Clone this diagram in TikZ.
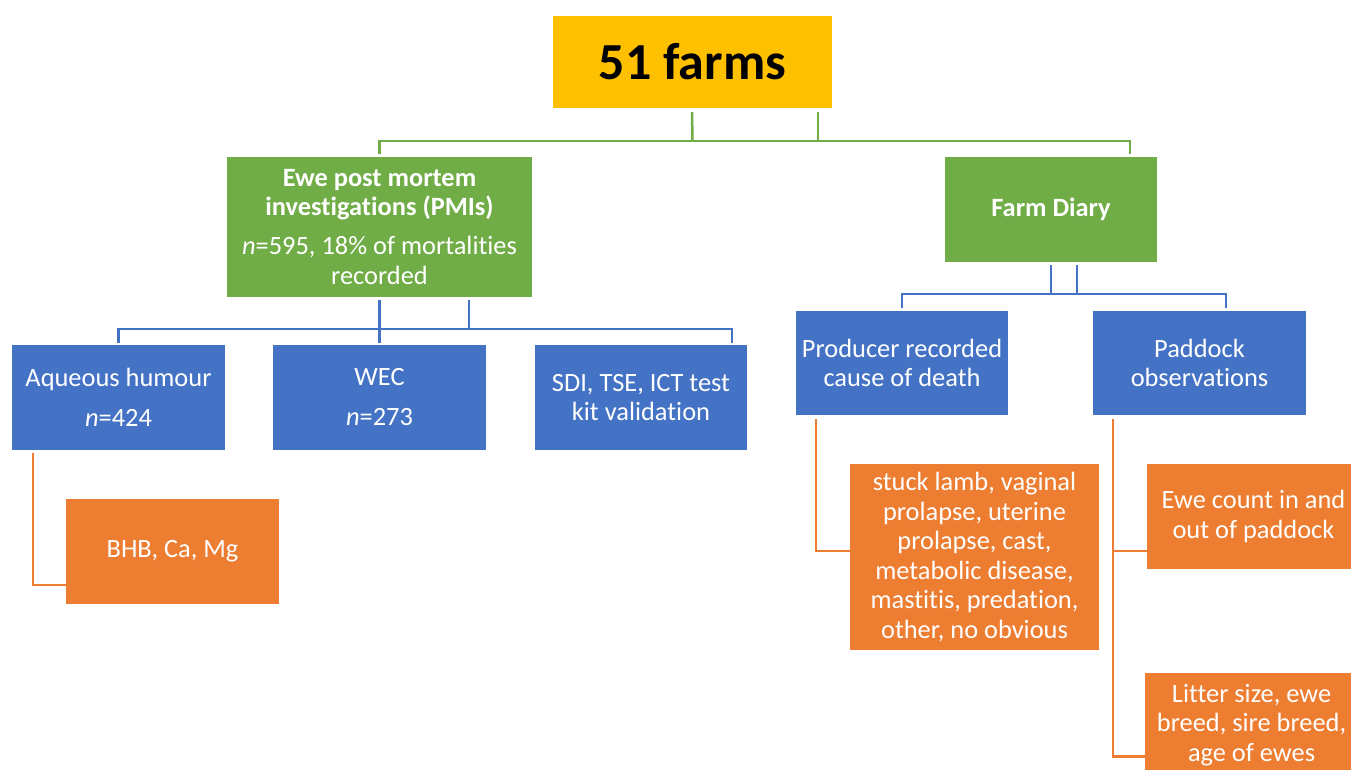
\documentclass[tikz,border=0pt]{standalone}
\usepackage{fontspec}
\setmainfont[Ligatures={NoCommon,NoContextual},RawFeature={-liga;-clig;-calt;-rlig;-dlig}]{Carlito}
\usetikzlibrary{calc}
\definecolor{cyellow}{HTML}{FFC000}
\definecolor{cgreen}{HTML}{70AD47}
\definecolor{cblue}{HTML}{4472C4}
\definecolor{corange}{HTML}{ED7D31}
\newcommand{\nolig}{\kern0pt }
\tikzset{
  box/.style={rectangle, inner sep=0pt, align=center, text=white,
    font=\fontsize{26.4}{29.5}\selectfont},
  gbox/.style={box, fill=cgreen},
  bbox/.style={box, fill=cblue},
  obox/.style={box, fill=corange},
  gline/.style={draw=cgreen, line width=2.5pt},
  bline/.style={draw=cblue, line width=2.5pt},
  oline/.style={draw=corange, line width=2.5pt},
}
\begin{document}
\begin{tikzpicture}[x=1pt,y=-1pt]
\useasboundingbox (0,0) rectangle (1351,770);
% boxes
\node[box, fill=cyellow, text=black, minimum width=279pt, minimum height=92pt,
  font=\fontsize{52}{60}\selectfont\bfseries] (farms) at (692.5,62) {51 farms};
\node[gbox, minimum width=305pt, minimum height=140pt] (pmi) at (379.5,227)
  {\textbf{Ewe post mortem}\\\textbf{investigat\nolig ions (PMIs)}\\[9.5pt]\textit{n}=595, 18\% of mortali\nolig t\nolig ies\\recorded};
\node[gbox, minimum width=212pt, minimum height=105pt] (diary) at (1051,209.5) {\textbf{Farm Diary}};
\node[bbox, minimum width=213pt, minimum height=105pt] (aq) at (118.5,397.5) {Aqueous humour\\[10.5pt]\textit{n}=424};
\node[bbox, minimum width=213pt, minimum height=105pt] (wec) at (379.5,397.5) {WEC\\[10.5pt]\textit{n}=273};
\node[bbox, minimum width=212pt, minimum height=105pt] (sdi) at (641,397.5) {SDI, TSE, ICT test\\kit validation};
\node[bbox, minimum width=212pt, minimum height=104pt] (prod) at (902,363) {Producer recorded\\cause of death};
\node[bbox, minimum width=213pt, minimum height=104pt] (pad) at (1199.5,363) {Paddock\\observations};
\node[obox, minimum width=213pt, minimum height=105pt] (bhb) at (172.5,551.5) {BHB, Ca, Mg};
\node[obox, minimum width=249pt, minimum height=186pt] (causes) at (974.5,557)
  {stuck lamb, vaginal\\prolapse, uterine\\prolapse, cast,\\metabolic disease,\\mast\nolig it\nolig is, predat\nolig ion,\\other, no obvious};
\node[obox, minimum width=213pt, minimum height=105pt] (ewe) at (1253.5,516.5) {Ewe count in and\\out of paddock};
\node[obox, minimum width=213pt, minimum height=104pt] (lit) at (1251.5,725) {Litter size, ewe\\breed, sire breed,\\age of ewes};
% hubs
\coordinate (hubg) at (692,141);
\coordinate (hubb) at (469,329);
\coordinate (hubd) at (1051,294);
% green connectors
\draw[gline] ([xshift=-0.5pt,yshift=-4pt]farms.south) -- (farms.south |- hubg);
\draw[gline] ([xshift=125.5pt,yshift=-4pt]farms.south) -- ([xshift=125.5pt]farms.south |- hubg);
\draw[gline] ([yshift=3pt]pmi.north) |- (hubg) -| ([xshift=79pt,yshift=3pt]diary.north);
% blue connectors under PMI
\draw[bline] ([yshift=-3pt]pmi.south) -- ([yshift=2pt]wec.north);
\draw[bline] ([xshift=89.5pt,yshift=-3pt]pmi.south) -- (hubb);
\draw[bline] ([yshift=2pt]aq.north) |- (hubb) -| ([xshift=91pt,yshift=2pt]sdi.north);
% blue connectors under diary
\draw[bline] ([yshift=-3pt]diary.south) -- (hubd);
\draw[bline] ([xshift=26pt,yshift=-3pt]diary.south) -- ([xshift=26pt]hubd);
\draw[bline] ([yshift=3pt]prod.north) |- (hubd) -| ([xshift=26.5pt,yshift=3pt]pad.north);
% orange connectors
\draw[oline] ([xshift=21pt,yshift=-3pt]aq.south west) |- ([yshift=-33.5pt]bhb.west);
\draw[oline] ([xshift=20pt,yshift=-4pt]prod.south west) |- ([yshift=6pt]causes.west);
\draw[oline] ([xshift=20pt,yshift=-4pt]pad.south west) |- ([yshift=-31.5pt]lit.west);
\draw[oline] ([yshift=-34.5pt]ewe.west) -| ([xshift=20pt,yshift=-4pt]pad.south west);
\end{tikzpicture}
\end{document}
